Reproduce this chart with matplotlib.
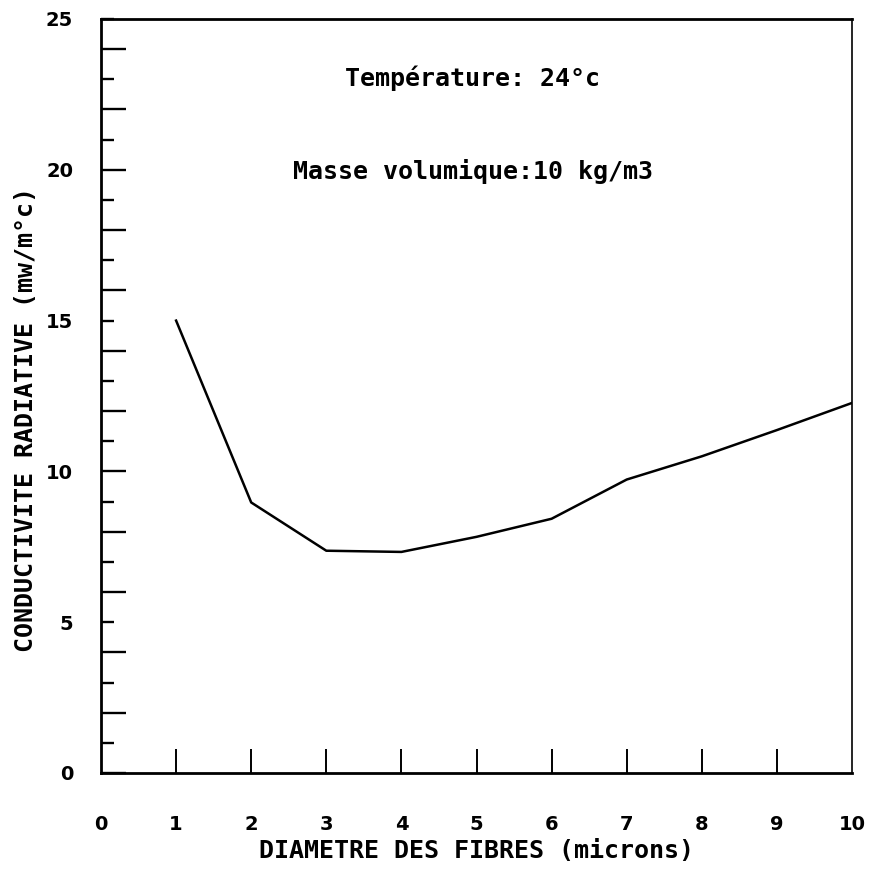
import matplotlib
matplotlib.use('Agg')
import matplotlib.pyplot as plt

# values
diametre = [1, 2, 3, 4, 5, 6, 7, 8, 9, 10]
conductivite = [15.0, 8.97, 7.37, 7.33, 7.83, 8.43, 9.73, 10.5, 11.37, 12.27]

xticks = list(range(0, 11))
yticks = list(range(0, 26))

plt.rcParams['font.family'] = ['DejaVu Sans Mono', 'DejaVu Sans']

fig = plt.figure(figsize=(8.77, 8.82), dpi=100)
ax = fig.add_axes([101 / 877, 109 / 882, 751 / 877, 754 / 882])

ax.plot(diametre, conductivite, color='black', linewidth=1.8)

ax.set_xlim(0, 10)
ax.set_ylim(0, 25)

ax.set_xticks(xticks)
ax.set_xticklabels([str(v) for v in xticks])
ax.set_yticks(yticks)
ax.set_yticklabels([str(v) if v % 5 == 0 else '' for v in yticks])

ax.tick_params(axis='x', direction='in', length=17, width=1.4, pad=30,
               labelsize=14, labelfontfamily='DejaVu Sans')
ax.tick_params(axis='y', direction='in', length=18, width=1.7, pad=20,
               labelsize=14, labelfontfamily='DejaVu Sans')
for lab in ax.get_xticklabels() + ax.get_yticklabels():
    lab.set_fontweight('bold')
for v, t in zip(yticks, ax.yaxis.get_major_ticks()):
    t.tick1line.set_markersize(18 if v % 2 == 0 else 9)
    t.tick2line.set_visible(False)
for v, t in zip(xticks, ax.xaxis.get_major_ticks()):
    if v in (0, 10):
        t.tick1line.set_visible(False)
    t.tick2line.set_visible(False)

for side in ('left', 'bottom', 'top'):
    ax.spines[side].set_linewidth(2.0)
ax.spines['right'].set_linewidth(1.2)

ax.set_xlabel('DIAMETRE DES FIBRES (microns)', fontsize=18, fontweight='bold', va='center')
ax.xaxis.set_label_coords(0.5, -0.103)
ax.set_ylabel('CONDUCTIVITE RADIATIVE (mw/m°c)', fontsize=18, fontweight='bold', va='center')
ax.yaxis.set_label_coords(-0.1, 0.469)

ax.text(4.95, 23.05, 'Température: 24°c', ha='center', va='center',
        fontsize=18, fontweight='bold')
ax.text(4.95, 19.96, 'Masse volumique:10 kg/m3', ha='center', va='center',
        fontsize=18, fontweight='bold')

fig.savefig('out.png', dpi=100)
